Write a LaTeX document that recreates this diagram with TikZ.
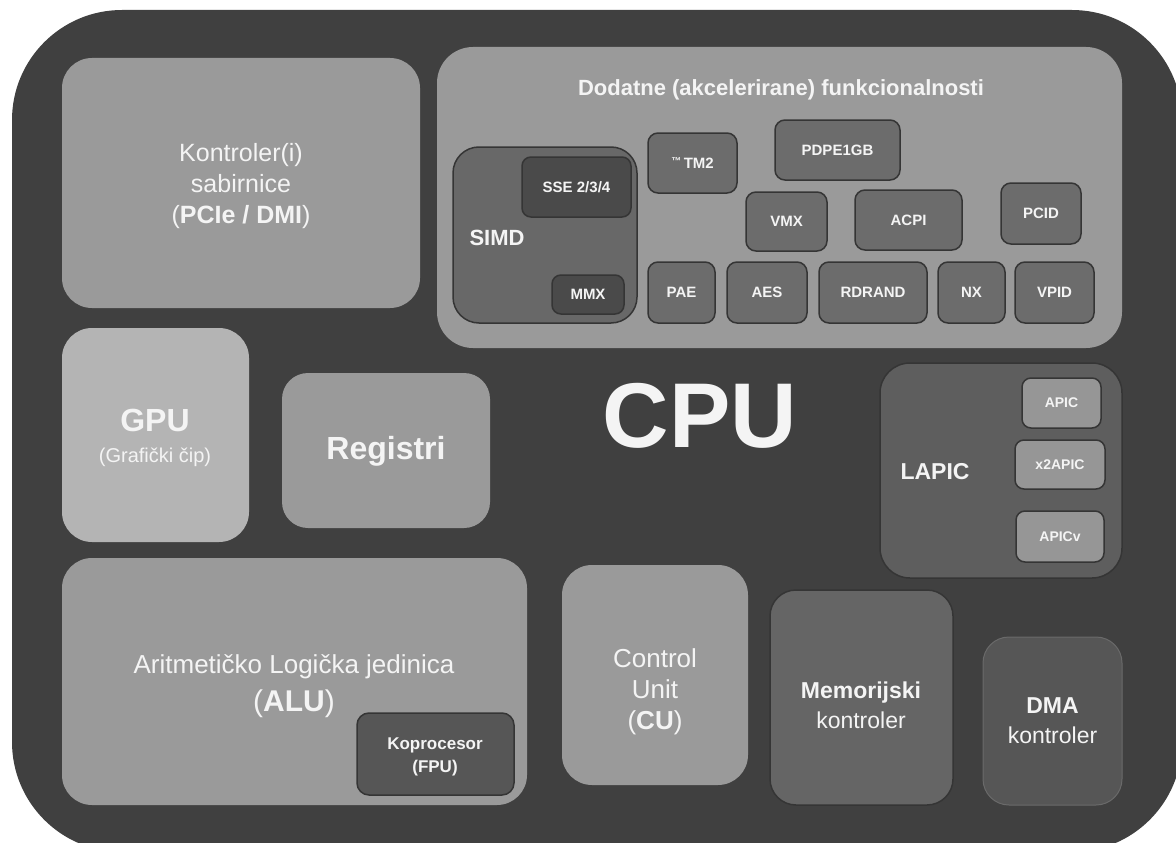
\documentclass[tikz,border=0pt]{standalone}
\usepackage{fontspec}
\setmainfont{Liberation Sans}
\definecolor{outerc}{HTML}{404040}
\definecolor{lightc}{HTML}{9A9A9A}
\definecolor{gpuc}{HTML}{B4B4B4}
\definecolor{midc}{HTML}{6C6C6C}
\definecolor{simdc}{HTML}{686868}
\definecolor{darkc}{HTML}{4A4A4A}
\definecolor{lapicc}{HTML}{5E5E5E}
\definecolor{apicc}{HTML}{969696}
\definecolor{memc}{HTML}{656565}
\definecolor{dmac}{HTML}{565656}
\definecolor{edgec}{HTML}{353535}
\definecolor{dmaedge}{HTML}{6A6A6A}
\definecolor{txt}{HTML}{F4F4F4}
\newcommand\setfs[2]{\fontsize{#1}{#2}\selectfont}
\newcommand\cpubox[7]{\node[#6, minimum width={(#4)-(#2)}, minimum height={(#5)-(#3)}] (#1) at ({((#2)+(#4))/2},{((#3)+(#5))/2}) {#7};}
\begin{document}
\begin{tikzpicture}[x=1pt,y=-1pt,
  box/.style={rectangle, rounded corners=#1, inner sep=0pt, outer sep=0pt, align=center, text=txt},
  box/.default=20pt,
  lightbox/.style={box=30pt, fill=lightc},
  gpubox/.style={box=30pt, fill=gpuc},
  featbox/.style={box=10pt, fill=midc, draw=edgec, line width=1.5pt, font=\setfs{15}{18}\bfseries},
  simdbox/.style={box=26pt, fill=simdc, draw=edgec, line width=1.5pt},
  ssebox/.style={box=9pt, fill=darkc, draw=edgec, line width=1.5pt, font=\setfs{15}{18}\bfseries},
  lapicbox/.style={box=30pt, fill=lapicc, draw=edgec, line width=1.5pt},
  apicbox/.style={box=9pt, fill=apicc, draw=edgec, line width=1.5pt, font=\setfs{14}{17}\bfseries},
  membox/.style={box=26pt, fill=memc, draw=edgec, line width=1.5pt},
  dmabox/.style={box=26pt, fill=dmac, draw=dmaedge, line width=1pt, font=\setfs{23}{30}},
  fpubox/.style={box=12pt, fill=dmac, draw=edgec, line width=1.5pt},
  lbl/.style={inner sep=0pt, outer sep=0pt, align=center, text=txt}
]
\useasboundingbox (0,0) rectangle (1176,843);
\fill[white] (0,0) rectangle (1176,843);
\cpubox{frame}{12}{10}{1182}{852}{box=110pt, fill=outerc}{}
% bus controller
\cpubox{bus}{62}{58}{420}{308}{lightbox}{}
\node[lbl, font=\setfs{25}{31}] (bustext) at (241,186) {Kontroler(i)\\sabirnice\\(\textbf{PCIe / DMI})};
% extra features
\cpubox{extra}{437}{47}{1122}{348}{box=36pt, fill=lightc}{}
\node[lbl, font=\setfs{22}{26}\bfseries] (extratitle) at (781,90) {Dodatne (akcelerirane) funkcionalnosti};
\cpubox{simd}{453}{147}{637}{323}{simdbox}{}
\node[lbl, font=\setfs{22}{26}\bfseries] (simdlabel) at (497,238) {SIMD};
\cpubox{sse}{522}{157}{631}{217}{ssebox}{SSE 2/3/4}
\cpubox{mmx}{552}{275}{624}{314}{ssebox}{MMX}
\cpubox{tm}{648}{133}{737}{193}{featbox}{{\setfs{10}{10}\raisebox{4pt}{™}}\,TM2}
\cpubox{pdpe}{775}{120}{900}{180}{featbox}{PDPE1GB}
\cpubox{vmx}{746}{192}{827}{251}{featbox}{VMX}
\cpubox{acpi}{855}{190}{962}{250}{featbox}{ACPI}
\cpubox{pcid}{1001}{183}{1081}{244}{featbox}{PCID}
\cpubox{pae}{648}{262}{715}{323}{featbox}{PAE}
\cpubox{aes}{727}{262}{807}{323}{featbox}{AES}
\cpubox{rdrand}{819}{262}{927}{323}{featbox}{RDRAND}
\cpubox{nx}{938}{262}{1005}{323}{featbox}{NX}
\cpubox{vpid}{1015}{262}{1094}{323}{featbox}{VPID}
% GPU and registers
\cpubox{gpu}{62}{328}{249}{542}{gpubox}{}
\node[lbl, font=\setfs{32}{36}\bfseries] (gputitle) at (155,420) {GPU};
\node[lbl, font=\setfs{20}{24}] (gpusub) at (155,457) {(Grafički čip)};
\cpubox{reg}{282}{373}{490}{528}{box=26pt, fill=lightc}{}
\node[lbl, font=\setfs{32}{36}\bfseries] (regtext) at (386,451) {Registri};
\node[lbl, font=\setfs{92}{92}\bfseries] (cpu) at (700,416) {CPU};
% LAPIC
\cpubox{lapic}{880}{363}{1122}{578}{lapicbox}{}
\node[lbl, font=\setfs{23}{26}\bfseries] (lapiclabel) at (935,472) {LAPIC};
\cpubox{apic}{1022}{378}{1101}{428}{apicbox}{APIC}
\cpubox{xapic}{1015}{440}{1105}{489}{apicbox}{x2APIC}
\cpubox{apicv}{1016}{511}{1104}{562}{apicbox}{APICv}
% ALU
\cpubox{alu}{62}{558}{527}{805}{lightbox}{}
\node[lbl, font=\setfs{26}{38}] (alutext) at (294,686) {Aritmetičko Logička jedinica\\{\setfs{30}{38}(\textbf{ALU})}};
\cpubox{fpu}{357}{713}{514}{795}{fpubox}{}
\node[lbl, font=\setfs{17}{23}\bfseries] (fputext) at (435,757) {Koprocesor\\(FPU)};
% CU
\cpubox{cu}{562}{565}{748}{785}{lightbox}{}
\node[lbl, font=\setfs{26}{31}] (cutext) at (655,692) {Control\\Unit\\(\textbf{CU})};
% memory and DMA
\cpubox{mem}{770}{590}{953}{805}{membox}{}
\node[lbl, font=\setfs{23}{30}] (memtext) at (861,705) {\textbf{Memorijski}\\kontroler};
\cpubox{dma}{983}{637}{1122}{805}{dmabox}{\textbf{DMA}\\kontroler}
\end{tikzpicture}
\end{document}
